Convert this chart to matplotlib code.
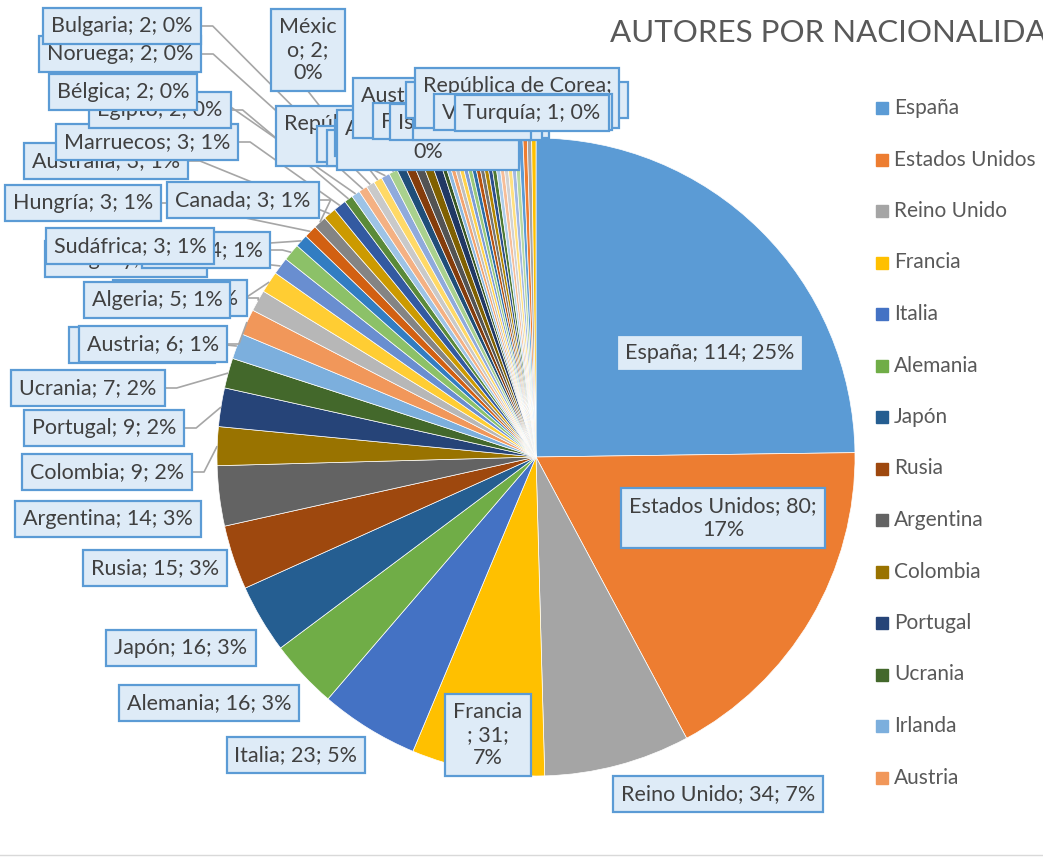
import colorsys
import math
import matplotlib
matplotlib.use('Agg')
import matplotlib.pyplot as plt
from matplotlib.patches import Rectangle

plt.rcParams['font.family'] = ['Lato', 'DejaVu Sans']

W, H = 1043, 859

# datos (ordenados de mayor a menor, como en la hoja)
countries = ['España', 'Estados Unidos', 'Reino Unido', 'Francia', 'Italia', 'Alemania',
             'Japón', 'Rusia', 'Argentina', 'Colombia', 'Portugal', 'Ucrania', 'Irlanda',
             'Austria', 'Brasil', 'Algeria', 'Uruguay', 'Chile', 'Sudáfrica', 'Hungría',
             'Canada', 'Australia', 'Marruecos', 'Egipto', 'Bélgica', 'Noruega', 'Bulgaria',
             'México', 'República Checa', 'Polonia', 'Suecia', 'Suiza', 'Israel', 'Dinamarca',
             'Grecia', 'Perú', 'Cuba', 'India', 'China', 'Chipre', 'Nigeria', 'Arabia Saudita',
             'Austria-Hungría', 'Finlandia', 'Islandia', 'Irán', 'Líbano', 'Nueva Zelanda',
             'Rumanía', 'Serbia', 'Croacia', 'Eslovenia', 'Kenia', 'Senegal', 'Vietnam',
             'República de Corea', 'Venezuela', 'Turquía']
authors = [114, 80, 34, 31, 23, 16, 16, 15, 14, 9, 9, 7, 6, 6, 5, 5, 4, 4, 3, 3, 3, 3, 3,
           2, 2, 2, 2, 2, 2, 2, 2, 2, 2, 2, 2,
           1, 1, 1, 1, 1, 1, 1, 1, 1, 1, 1, 1, 1, 1, 1, 1, 1, 1, 1, 1, 1, 1, 1]
legend_count = 14

# texto de etiquetas que Excel parte en varias lineas
wrapped = {
    'Estados Unidos': '{n}; {v};\n{p}%',
    'Francia': '{n}\n; {v};\n{p}%',
    'México': 'Méxic\no; {v};\n{p}%',
    'República Checa': '{n};\n{v}; {p}%',
    'Arabia Saudita': '{n}; {v};\n{p}%',
    'Austria-Hungría': '{n}; {v};\n{p}%',
    'República de Corea': '{n};\n{v}; {p}%',
}

# posicion (px, y desde arriba) de cada etiqueta
label_at = {
    'España': (710, 353), 'Estados Unidos': (723, 518), 'Reino Unido': (718, 794),
    'Francia': (488, 735), 'Italia': (296, 755), 'Alemania': (209, 703),
    'Japón': (181, 648), 'Rusia': (155, 568), 'Argentina': (108, 519),
    'Colombia': (107, 472), 'Portugal': (104, 428), 'Ucrania': (88, 388),
    'Irlanda': (142, 345), 'Austria': (153, 344), 'Brasil': (180, 298),
    'Algeria': (157, 300), 'Uruguay': (126, 259), 'Chile': (206, 250),
    'Sudáfrica': (130, 246), 'Hungría': (83, 203), 'Canada': (243, 200),
    'Australia': (106, 161), 'Marruecos': (147, 142), 'Egipto': (160, 110),
    'Bélgica': (123, 92), 'Noruega': (120, 54), 'Bulgaria': (122, 26),
    'México': (308, 50), 'República Checa': (365, 136), 'Polonia': (392, 144),
    'Suecia': (398, 148),
    'Suiza': (428, 140), 'Israel': (430, 142), 'Dinamarca': (426, 138), 'Grecia': (428, 141),
    'Perú': (428, 140), 'Cuba': (428, 140), 'India': (428, 140), 'China': (428, 140),
    'Chipre': (428, 140), 'Nigeria': (428, 140), 'Arabia Saudita': (428, 140),
    'Austria-Hungría': (451, 108), 'Finlandia': (456, 121), 'Islandia': (466, 122),
    'Irán': (472, 122),
    'Líbano': (517, 100), 'Nueva Zelanda': (517, 100), 'Rumanía': (517, 100),
    'Serbia': (517, 100), 'Croacia': (517, 100), 'Eslovenia': (517, 100),
    'Kenia': (517, 100), 'Senegal': (517, 100), 'Vietnam': (517, 100),
    'República de Corea': (517, 98), 'Venezuela': (523, 112), 'Turquía': (532, 113),
}

accents = ['#5B9BD5', '#ED7D31', '#A5A5A5', '#FFC000', '#4472C4', '#70AD47']
variations = [(1.0, 0.0), (0.6, 0.0), (0.8, 0.2), (0.8, 0.0), (0.6, 0.4),
              (0.5, 0.0), (0.7, 0.3), (0.7, 0.0), (0.5, 0.5)]


def excel_color(i):
    r, g, b = matplotlib.colors.to_rgb(accents[i % 6])
    mod, off = variations[(i // 6) % len(variations)]
    h, l, s = colorsys.rgb_to_hls(r, g, b)
    return colorsys.hls_to_rgb(h, min(1.0, l * mod + off), s)


colors = [excel_color(i) for i in range(len(authors))]
total = sum(authors)

fig = plt.figure(figsize=(W / 100, H / 100), dpi=100)
ax = fig.add_axes([0, 0, 1, 1])

cx, cy, R = 536, H - 457, 319
wedges, _ = ax.pie(authors, colors=colors, startangle=90, counterclock=False,
                   center=(cx, cy), radius=R,
                   wedgeprops=dict(edgecolor='white', linewidth=0.5))
for w in wedges:
    w.set_zorder(1)
ax.set_xlim(0, W)
ax.set_ylim(0, H)
ax.set_aspect('auto')
ax.axis('off')

# etiquetas de datos
texts = []
for i, (name, v) in enumerate(zip(countries, authors)):
    pct = round(v / total * 100)
    fmt = wrapped.get(name, '{n}; {v}; {p}%')
    txt = fmt.format(n=name, v=v, p=pct)
    x, y = label_at[name]
    t = ax.text(x, H - y, txt, ha='center', va='center', fontsize=15.5, color='#404040',
                multialignment='center', linespacing=1.2, zorder=3 + i * 0.01,
                bbox=dict(boxstyle='square,pad=0.37', fc='#DEEBF7', ec='#5B9BD5', lw=1.6))
    texts.append(t)

# lineas guia
fig.canvas.draw()
renderer = fig.canvas.get_renderer()
inv = ax.transData.inverted()
for i, (w, t) in enumerate(zip(wedges, texts)):
    if i < 9:
        continue
    a = math.radians((w.theta1 + w.theta2) / 2)
    px, py = cx + R * math.cos(a), cy + R * math.sin(a)
    bb = t.get_bbox_patch().get_window_extent(renderer)
    (x0, y0), (x1, y1) = inv.transform([(bb.x0, bb.y0), (bb.x1, bb.y1)])
    ym, xm = (y0 + y1) / 2, (x0 + x1) / 2
    cands = [((x1, ym), 1), ((x0, ym), -1), ((xm, y0), 0), ((xm, y1), 0)]
    (ax_, ay_), side = min(cands, key=lambda c: (c[0][0] - px) ** 2 + (c[0][1] - py) ** 2)
    if side:
        xs = [ax_, ax_ + 12 * side, px]
        ys = [ay_, ay_, py]
    else:
        xs, ys = [ax_, px], [ay_, py]
    ax.plot(xs, ys, color='#A6A6A6', lw=1.2, zorder=2, solid_capstyle='butt')

# leyenda (solo caben las primeras entradas)
for k in range(legend_count):
    yk = H - (108 + 51.5 * k)
    ax.add_patch(Rectangle((876, yk - 6), 12, 12, color=colors[k], zorder=5))
    ax.text(894, yk, countries[k], ha='left', va='center', fontsize=15, color='#595959', zorder=5)

ax.text(610, H - 33, 'AUTORES POR NACIONALIDAD', ha='left', va='center',
        fontsize=22.5, color='#595959', zorder=5)
ax.plot([0, W], [H - 855, H - 855], color='#D9D9D9', lw=1, zorder=5)

fig.savefig('out.png', dpi=100)
